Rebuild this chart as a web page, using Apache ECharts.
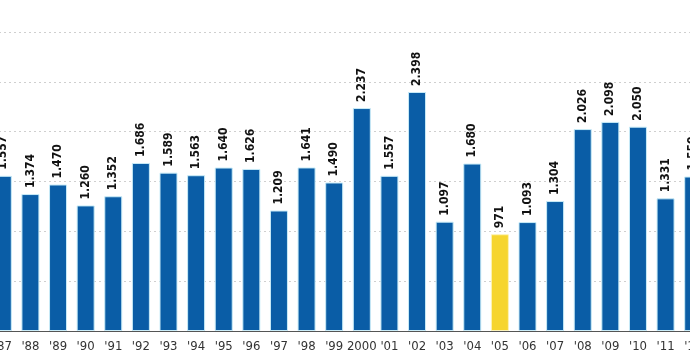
<!DOCTYPE html>
<html>
<head>
<meta charset="utf-8">
<script src="https://cdn.jsdelivr.net/npm/echarts@6/dist/echarts.min.js"></script>
<style>
html,body{margin:0;padding:0;background:#fff;overflow:hidden;}
#wrap{position:relative;width:690px;height:362px;overflow:hidden;}
#c{position:absolute;left:-11px;top:0;width:718px;height:362px;}
</style>
</head>
<body>
<div id="wrap"><div id="c"></div></div>
<script>
var categories = ["'87","'88","'89","'90","'91","'92","'93","'94","'95","'96","'97","'98","'99","2000","'01","'02","'03","'04","'05","'06","'07","'08","'09","'10","'11","'12"];
var values = [1557,1374,1470,1260,1352,1686,1589,1563,1640,1626,1209,1641,1490,2237,1557,2398,1097,1680,971,1093,1304,2026,2098,2050,1331,1550];
var highlightCategory = "'05";

var chart = echarts.init(document.getElementById('c'));
function fmt(v){ return v >= 1000 ? Math.floor(v/1000) + '.' + String(v%1000).padStart(3,'0') : String(v); }
var data = values.map(function(v, i){
  var hl = categories[i] === highlightCategory;
  return { value: v, itemStyle: { color: hl ? '#f6d52e' : '#0a5da6', borderColor: hl ? '#fdf3b8' : '#c9ecf8', borderWidth: 1 } };
});
chart.setOption({
  animation: false,
  grid: { left: 0, right: 0, top: 32, bottom: 31, containLabel: false },
  xAxis: {
    type: 'category', data: categories,
    axisLine: { lineStyle: { color: '#555', width: 1 } },
    axisTick: { show: false },
    axisLabel: { color: '#333', fontFamily: 'DejaVu Sans Condensed', fontSize: 13, margin: 9, interval: 0 }
  },
  yAxis: {
    type: 'value', min: 0, max: 3000, interval: 500,
    axisLabel: { show: false }, axisLine: { show: false }, axisTick: { show: false },
    splitLine: { lineStyle: { color: '#cfcfcf', type: [2, 3], width: 1 } }
  },
  series: [{
    type: 'bar', data: data, barWidth: 18,
    label: {
      show: true, position: 'top', rotate: 90, distance: 6,
      align: 'left', verticalAlign: 'middle',
      color: '#111', fontFamily: 'DejaVu Sans Condensed', fontWeight: 'bold', fontSize: 12,
      formatter: function(p){ return fmt(p.value); }
    }
  }]
});
</script>
</body>
</html>
